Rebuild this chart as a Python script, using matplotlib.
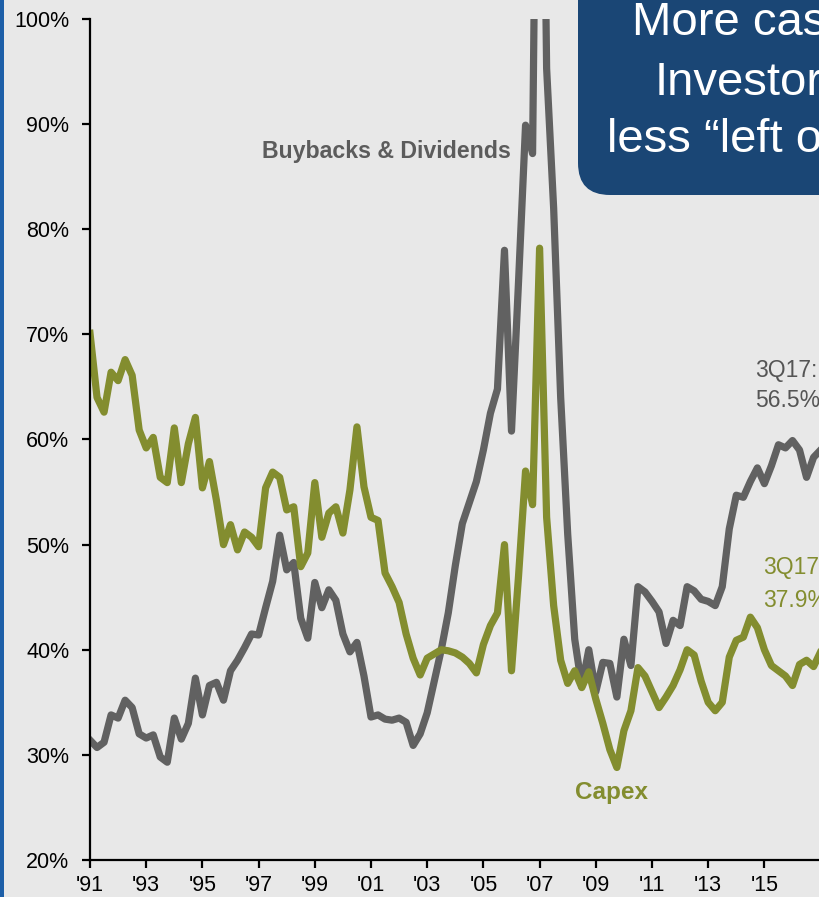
import numpy as np
import matplotlib
matplotlib.use("Agg")
import matplotlib.pyplot as plt
from matplotlib.patches import FancyBboxPatch, Rectangle

plt.rcParams['font.family'] = ['Liberation Sans', 'DejaVu Sans']

# quarterly, 1Q91 .. 3Q17 (% of cash used)
quarters = 1991 + np.arange(107) / 4.0

buybacks_divs = [
    31.4, 30.7, 31.2, 33.8, 33.5, 35.2, 34.5, 32.0, 31.6, 31.9,
    29.8, 29.3, 33.5, 31.5, 33.0, 37.3, 33.8, 36.6, 36.9, 35.2,
    38.0, 39.0, 40.2, 41.5, 41.4, 44.0, 46.5, 50.9, 47.6, 48.3,
    43.0, 41.1, 46.4, 44.0, 45.7, 44.7, 41.5, 39.8, 40.7, 37.5,
    33.6, 33.8, 33.4, 33.3, 33.5, 33.1, 30.9, 32.0, 34.0, 37.0,
    40.0, 43.5, 48.0, 52.0, 54.0, 56.0, 59.0, 62.5, 64.8, 78.0,
    60.8, 75.0, 89.9, 87.2, 150.0, 95.3, 82.0, 64.0, 51.0, 41.0,
    36.5, 40.0, 36.0, 38.8, 38.7, 35.5, 41.0, 38.5, 46.0, 45.5,
    44.6, 43.6, 40.6, 42.8, 42.3, 46.0, 45.6, 44.8, 44.6, 44.2,
    46.0, 51.5, 54.7, 54.5, 56.0, 57.3, 55.8, 57.5, 59.5, 59.2,
    59.9, 59.0, 56.4, 58.3, 59.0, 58.0, 56.5,
]

capex = [
    70.1, 64.0, 62.6, 66.4, 65.6, 67.6, 66.1, 60.9, 59.2, 60.2,
    56.4, 55.9, 61.1, 55.9, 59.6, 62.1, 55.4, 57.9, 54.2, 50.0,
    51.9, 49.5, 51.2, 50.7, 49.8, 55.4, 56.9, 56.4, 53.3, 53.6,
    47.9, 49.2, 55.9, 50.7, 53.0, 53.6, 51.1, 55.2, 61.2, 55.5,
    52.6, 52.3, 47.3, 46.0, 44.5, 41.5, 39.2, 37.6, 39.2, 39.6,
    40.0, 39.9, 39.7, 39.3, 38.7, 37.8, 40.5, 42.3, 43.5, 50.0,
    38.0, 47.0, 57.0, 53.8, 78.2, 52.6, 44.2, 39.0, 36.8, 38.0,
    36.4, 37.9, 35.3, 33.0, 30.5, 28.8, 32.3, 34.2, 38.3, 37.5,
    36.0, 34.5, 35.5, 36.6, 38.1, 40.0, 39.5, 37.0, 35.0, 34.2,
    35.0, 39.3, 40.9, 41.2, 43.1, 42.1, 40.0, 38.5, 38.0, 37.5,
    36.6, 38.6, 39.0, 38.4, 39.8, 39.0, 37.9,
]

year_ticks = [1991, 1993, 1995, 1997, 1999, 2001, 2003, 2005, 2007, 2009, 2011, 2013, 2015]
year_labels = ["'91", "'93", "'95", "'97", "'99", "'01", "'03", "'05", "'07", "'09", "'11", "'13", "'15"]
pct_ticks = [20, 30, 40, 50, 60, 70, 80, 90, 100]

callout_lines = ['More cash to', 'Investors,', 'less \u201cleft over\u201d']

bg = '#e8e8e8'
grey = '#616161'
olive = '#838d2f'
navy = '#1a4675'

W, H = 819, 897
fig = plt.figure(figsize=(W / 100, H / 100), dpi=100, facecolor=bg)
ax = fig.add_axes([90 / W, 37 / H, 758.7 / W, 841 / H])
ax.set_facecolor(bg)

ax.plot(quarters, buybacks_divs, color=grey, lw=5.2, solid_joinstyle='round')
ax.plot(quarters, capex, color=olive, lw=5.2, solid_joinstyle='round')

ax.set_xlim(1991, 2018)
ax.set_ylim(20, 100)
ax.set_yticks(pct_ticks)
ax.set_yticklabels([f'{v}%' for v in pct_ticks])
ax.set_xticks(year_ticks)
ax.set_xticklabels(year_labels, family=['Liberation Sans Narrow', 'Liberation Sans'])

for s in ['top', 'right']:
    ax.spines[s].set_visible(False)
for s in ['left', 'bottom']:
    ax.spines[s].set_linewidth(1.6)
    ax.spines[s].set_color('black')
ax.tick_params(axis='y', direction='out', length=6, width=1.6, pad=9, labelsize=15.5)
ax.tick_params(axis='x', direction='out', length=6, width=1.6, pad=5, labelsize=15.5)

# series labels
ax.text(2001.55, 87.35, 'Buybacks & Dividends', color='#5c5c5c', fontsize=16.7,
        fontweight='bold', ha='center', va='center')
ax.text(2009.55, 26.4, 'Capex', color=olive, fontsize=17.5,
        fontweight='bold', ha='center', va='center')
ax.text(2014.67, 66.6, '3Q17:', color='#555555', fontsize=16.5, ha='left', va='center', clip_on=False)
ax.text(2014.67, 63.75, '56.5%', color='#555555', fontsize=16.5, ha='left', va='center', clip_on=False)
ax.text(2014.95, 47.8, '3Q17:', color=olive, fontsize=16.5, ha='left', va='center', clip_on=False)
ax.text(2014.95, 44.7, '37.9%', color=olive, fontsize=16.5, ha='left', va='center', clip_on=False)

# callout box in the top right corner
box = FancyBboxPatch((5.78, 7.02), 4.0, 3.0,
                     boxstyle='round,pad=0,rounding_size=0.32',
                     transform=fig.dpi_scale_trans, facecolor=navy,
                     edgecolor='none', zorder=5)
fig.patches.append(box)
for line, xpx, ypx in zip(callout_lines, [769, 757, 755], [23, 83, 140]):
    fig.text(xpx / W, 1 - ypx / H, line, color='white', fontsize=34,
             ha='center', va='center', zorder=6)

# strip of slide background on the left edge
fig.patches.append(Rectangle((0, 0), 4 / W, 1, transform=fig.transFigure,
                             facecolor='#1d5fa8', edgecolor='none'))

fig.savefig('out.png', dpi=100, facecolor=bg)
